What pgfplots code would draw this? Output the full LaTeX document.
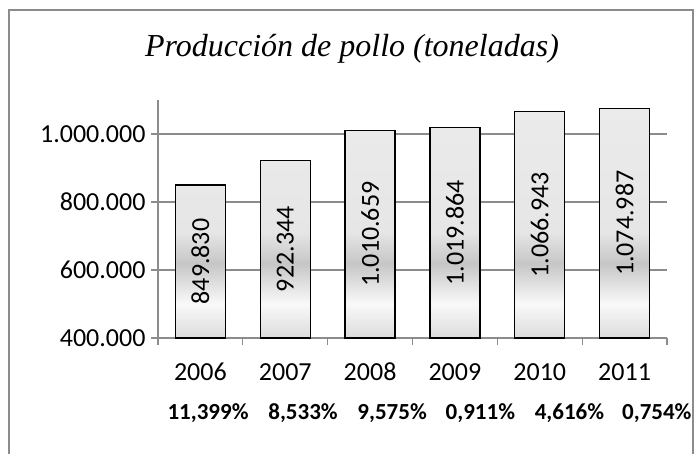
\documentclass[border=0pt]{standalone}
\usepackage{pgfplots}
\usepackage{pgfplotstable}
\pgfplotsset{compat=1.18}
\usepackage{fontspec}
\setmainfont{Carlito}
\newfontfamily\tnr{Liberation Serif}
\definecolor{sbot}{HTML}{DCDCDC}
\definecolor{swhite}{HTML}{F9F9F9}
\definecolor{sdark}{HTML}{C6C6C6}
\definecolor{slight}{HTML}{E6E6E6}
\definecolor{stop}{HTML}{EBEBEB}
\definecolor{gridc}{HTML}{8C8C8C}
\pgfdeclareverticalshading{barshade}{100bp}{color(0bp)=(sbot); color(25bp)=(sbot); color(32.5bp)=(swhite); color(41.25bp)=(sdark); color(48bp)=(slight); color(75bp)=(stop); color(100bp)=(stop)}
\tikzset{pct/.style={font=\bfseries\fontsize{23}{27}\selectfont, anchor=base, yshift=-82pt}}
\pgfplotstableread{
x v lab
0 849830 849.830
1 922344 922.344
2 1010659 1.010.659
3 1019864 1.019.864
4 1066943 1.066.943
5 1074987 1.074.987
}\prodtab
\begin{document}
\begin{tikzpicture}
\useasboundingbox (0,0) rectangle (698pt,454pt);
\draw[gridc, line width=1.2pt] (9pt,-20pt) rectangle (693pt,444pt);
\node[anchor=base, font=\tnr\itshape\fontsize{32}{36}\selectfont] at (352pt,397pt) {Producción de pollo (toneladas)};
\begin{axis}[
  at={(158pt,116pt)}, anchor=south west,
  scale only axis, width=509pt, height=238pt,
  xmin=-0.5, xmax=5.5, ymin=400000, ymax=1100000,
  axis lines*=left,
  axis line style={gridc, line width=1.2pt},
  scaled y ticks=false,
  ytick={400000,600000,800000,1000000},
  yticklabels={400.000,600.000,800.000,1.000.000},
  xtick={-0.5,0.5,...,5.5},
  xticklabels={},
  extra x ticks={0,1,2,3,4,5},
  extra x tick labels={2006,2007,2008,2009,2010,2011},
  extra x tick style={major tick length=0pt, grid=none,
    xticklabel style={anchor=base, yshift=-43pt}},
  tick align=outside,
  major tick length=7pt,
  tick style={gridc, line width=1.2pt},
  ymajorgrids, grid style={gridc, line width=1.2pt},
  tick label style={font=\fontsize{26}{30}\selectfont, text=black},
  yticklabel style={xshift=-2pt},
  clip=false,
]
\addplot[ybar, bar width=50pt, draw=black, line width=1.4pt, shading=barshade] table[x=x, y=v] {\prodtab};
\addplot[draw=none, mark=none, nodes near coords, point meta=explicit symbolic,
  every node near coord/.style={rotate=90, anchor=center, font=\fontsize{26}{30}\selectfont, text=black}]
  table[x=x, y expr={(\thisrow{v}+400000)/2}, meta=lab] {\prodtab};
\node[pct] at (axis cs:0.09,400000) {11,399\%};
\node[pct] at (axis cs:1.21,400000) {8,533\%};
\node[pct] at (axis cs:2.26,400000) {9,575\%};
\node[pct] at (axis cs:3.30,400000) {0,911\%};
\node[pct] at (axis cs:4.35,400000) {4,616\%};
\node[pct] at (axis cs:5.38,400000) {0,754\%};
\end{axis}
\end{tikzpicture}
\end{document}
